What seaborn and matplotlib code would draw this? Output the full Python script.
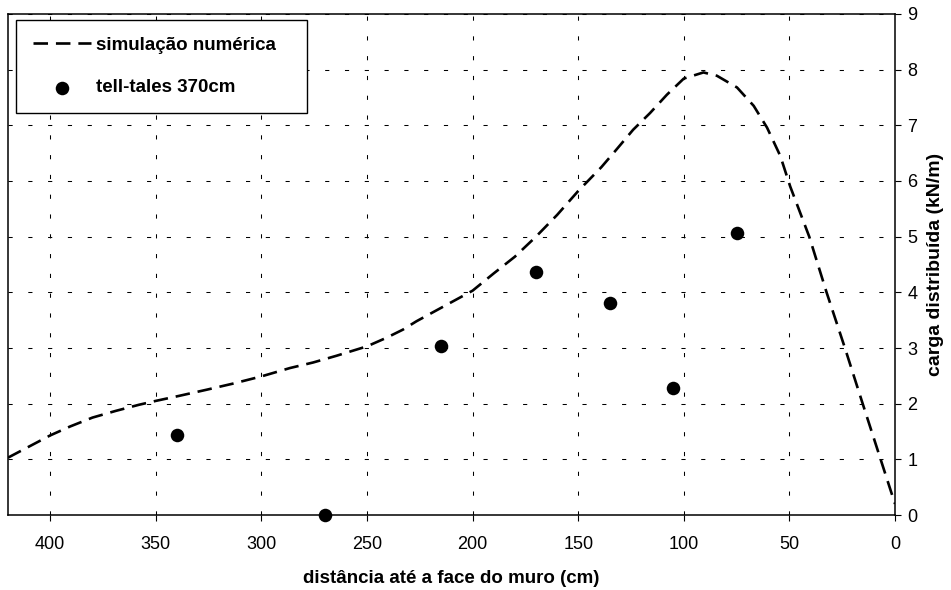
import matplotlib
matplotlib.use("Agg")
import matplotlib.pyplot as plt
import seaborn as sns
import pandas as pd

# Numerical simulation: distributed load along the distance to the wall face
sim_dist = [420, 412, 400, 390.6, 380, 369, 358, 350, 339, 326, 313.5, 300,
            286.5, 275.5, 264.5, 250, 241, 233, 226.6, 215, 200, 190, 180,
            170, 160, 150, 139, 132, 124, 116, 108, 100, 90.7, 84.3, 74.8,
            66.9, 60.6, 54.3, 49.6, 40.6, 32.4, 23.7, 15.3, 6.8, 0]
sim_load = [1.03, 1.19, 1.43, 1.59, 1.75, 1.87, 1.98, 2.05, 2.14, 2.25, 2.36,
            2.49, 2.64, 2.74, 2.86, 3.03, 3.18, 3.33, 3.48, 3.72, 4.03, 4.34,
            4.64, 5.0, 5.39, 5.82, 6.25, 6.56, 6.92, 7.22, 7.55, 7.84, 7.95,
            7.89, 7.68, 7.35, 6.96, 6.45, 5.9, 5.0, 4.0, 3.0, 2.0, 1.0, 0.2]

# Tell-tale measurements at 370 cm
tt_dist = [340, 270, 215, 170, 135, 105, 75]
tt_load = [1.43, 0.0, 3.04, 4.36, 3.80, 2.29, 5.07]

x_ticks = [400, 350, 300, 250, 200, 150, 100, 50, 0]
y_ticks = list(range(0, 10))

sim_label = "simulação numérica"
tt_label = "tell-tales 370cm"
x_label = "distância até a face do muro (cm)"
y_label = "carga distribuída (kN/m)"

sim_df = pd.DataFrame({"dist": sim_dist, "load": sim_load})
tt_df = pd.DataFrame({"dist": tt_dist, "load": tt_load})

sns.set_style("white")
plt.rcParams["font.family"] = ["Liberation Sans", "DejaVu Sans"]
plt.rcParams["text.color"] = "black"
plt.rcParams["axes.labelcolor"] = "black"
plt.rcParams["xtick.color"] = "black"
plt.rcParams["ytick.color"] = "black"

fig = plt.figure(figsize=(9.51, 5.90), dpi=100)
ax = fig.add_axes([0.0084, 0.1271, 0.9327, 0.8492])

sns.lineplot(data=sim_df, x="dist", y="load", sort=False, ax=ax,
             color="black", linewidth=1.9, linestyle=(0, (5.5, 3.0)),
             label=sim_label, zorder=3)
sns.scatterplot(data=tt_df, x="dist", y="load", ax=ax, color="black",
                s=95, edgecolor="black", linewidth=0, label=tt_label,
                zorder=4, clip_on=False)

ax.set_xlim(420, 0)
ax.set_ylim(0, 9)
ax.set_xticks(x_ticks)
ax.set_yticks(y_ticks)

ax.grid(True, color="black", linestyle=(0, (4, 15)), linewidth=0.75)
ax.set_axisbelow(True)

for side in ["left", "right", "top", "bottom"]:
    ax.spines[side].set_visible(True)
    ax.spines[side].set_color("black")
    ax.spines[side].set_linewidth(1.1)

ax.yaxis.tick_right()
ax.yaxis.set_label_position("right")
ax.tick_params(axis="x", direction="out", length=4, width=0.8, pad=11,
               labelsize=13, colors="black", bottom=True)
ax.tick_params(axis="y", direction="out", length=4, width=0.8, pad=5,
               labelsize=13, colors="black", right=True, left=False)

ax.set_xlabel(x_label, fontsize=13.5, fontweight="bold", labelpad=12)
ax.set_ylabel(y_label, fontsize=14, fontweight="bold", labelpad=7)

leg = ax.legend(loc="upper left", bbox_to_anchor=(0.009, 0.5, 0.328, 0.488),
                mode="expand", frameon=True, fancybox=False,
                prop={"weight": "bold", "size": 13.5},
                handlelength=3.1, handletextpad=0.25, labelspacing=1.35,
                borderpad=0.9, borderaxespad=0.0)
leg.get_frame().set_edgecolor("black")
leg.get_frame().set_linewidth(1.0)
leg.get_frame().set_alpha(1)

fig.savefig("out.png", dpi=100, facecolor="white")
